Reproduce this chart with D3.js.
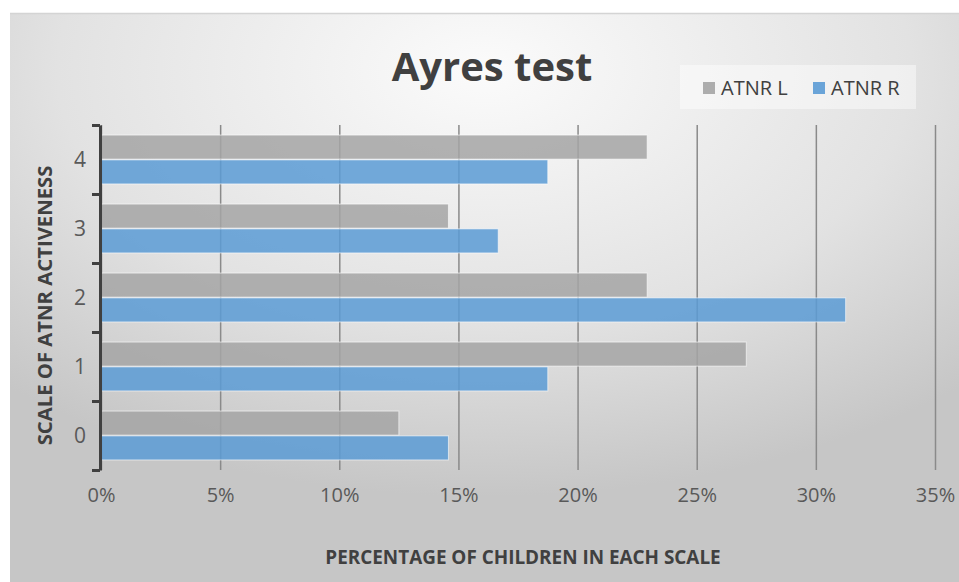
<!DOCTYPE html>
<html>
<head>
<meta charset="utf-8">
<script src="https://cdn.jsdelivr.net/npm/d3@7"></script>
<style>
  body { margin: 0; background: #ffffff; }
  svg { display: block; font-family: "Open Sans", sans-serif; }
</style>
</head>
<body>
<svg id="chart" width="959" height="582"></svg>
<script>
// data (share of 48 children)
var categories = ["4", "3", "2", "1", "0"];
var seriesNames = ["ATNR L", "ATNR R"];
var atnrL = [0.2292, 0.1458, 0.2292, 0.2708, 0.125];
var atnrR = [0.1875, 0.1667, 0.3125, 0.1875, 0.1458];
var xTicks = [0, 0.05, 0.10, 0.15, 0.20, 0.25, 0.30, 0.35];
var colors = ["#a5a5a5", "#5b9bd5"];

var width = 959, height = 582;
var plotLeft = 101, plotRight = 935, plotTop = 125, plotBottom = 470;

var svg = d3.select("#chart");

// background gradient
var defs = svg.append("defs");
var grad = defs.append("radialGradient")
    .attr("id", "bg")
    .attr("cx", "50%").attr("cy", "10%").attr("r", "75%")
    .attr("gradientUnits", "objectBoundingBox");
grad.append("stop").attr("offset", "0%").attr("stop-color", "#fbfbfb");
grad.append("stop").attr("offset", "60%").attr("stop-color", "#e2e2e2");
grad.append("stop").attr("offset", "100%").attr("stop-color", "#c6c6c6");

svg.append("rect")
    .attr("x", 10).attr("y", 13)
    .attr("width", width - 10).attr("height", height - 13)
    .attr("fill", "url(#bg)");
svg.append("line")
    .attr("x1", 10).attr("x2", width).attr("y1", 13.5).attr("y2", 13.5)
    .attr("stroke", "#d4d4d4").attr("stroke-width", 1.5);

var x = d3.scaleLinear().domain([0, 0.35]).range([plotLeft, plotRight]);
var y = d3.scaleBand().domain(categories).range([plotTop, plotBottom])
    .paddingInner(0.27).paddingOuter(0.135);
var ySub = d3.scaleBand().domain(seriesNames).range([0, y.bandwidth()]).padding(0.03);

// title
svg.append("text")
    .attr("x", 492).attr("y", 81)
    .attr("text-anchor", "middle")
    .attr("font-weight", "bold")
    .attr("font-size", 40)
    .attr("fill", "#404040")
    .text("Ayres test");

// legend
var legend = svg.append("g");
legend.append("rect")
    .attr("x", 680).attr("y", 65).attr("width", 236).attr("height", 44)
    .attr("fill", "#ffffff").attr("fill-opacity", 0.45);
var legX = [703, 813];
seriesNames.forEach(function(s, i) {
    legend.append("rect")
        .attr("x", legX[i]).attr("y", 82)
        .attr("width", 12).attr("height", 12)
        .attr("fill", colors[i]).attr("fill-opacity", 0.9);
    legend.append("text")
        .attr("x", legX[i] + 18).attr("y", 95)
        .attr("font-size", 20)
        .attr("fill", "#404040")
        .text(s);
});

// x gridlines + tick labels
var xAxis = svg.append("g")
    .attr("transform", "translate(0," + plotBottom + ")")
    .call(d3.axisBottom(x).tickValues(xTicks).tickFormat(d3.format(".0%"))
        .tickSize(-(plotBottom - plotTop)).tickPadding(18));
xAxis.select(".domain").remove();
xAxis.selectAll(".tick line")
    .attr("stroke", "#8a8a8a").attr("stroke-width", 1.5);
xAxis.selectAll(".tick text")
    .attr("font-size", 20)
    .attr("fill", "#595959")
    .attr("font-family", "'Open Sans', sans-serif");

// bars
var rows = categories.map(function(c, i) {
    return {cat: c, values: [atnrL[i], atnrR[i]]};
});
var groups = svg.append("g").selectAll("g").data(rows).enter().append("g")
    .attr("transform", function(d) { return "translate(0," + y(d.cat) + ")"; });
groups.selectAll("rect")
    .data(function(d) { return d.values.map(function(v, i) { return {s: seriesNames[i], v: v, i: i}; }); })
    .enter().append("rect")
    .attr("x", x(0))
    .attr("y", function(d) { return ySub(d.s); })
    .attr("width", function(d) { return x(d.v) - x(0); })
    .attr("height", ySub.bandwidth())
    .attr("fill", function(d) { return colors[d.i]; })
    .attr("fill-opacity", 0.85)
    .attr("stroke", "#ffffff")
    .attr("stroke-opacity", 0.6)
    .attr("stroke-width", 1);

// y axis with ticks at category boundaries
var yEdge = d3.scaleLinear().domain([0, categories.length]).range([plotBottom, plotTop]);
var yAxis = svg.append("g")
    .attr("transform", "translate(" + (plotLeft - 1) + ",0)")
    .call(d3.axisLeft(yEdge).tickValues(d3.range(categories.length + 1))
        .tickFormat("").tickSize(8).tickSizeOuter(0));
yAxis.select(".domain").attr("stroke", "#404040").attr("stroke-width", 3);
yAxis.selectAll(".tick line").attr("stroke", "#404040").attr("stroke-width", 3);

// category labels
svg.append("g").selectAll("text").data(categories).enter().append("text")
    .attr("x", 80)
    .attr("y", function(d) { return y(d) + y.bandwidth() / 2; })
    .attr("dy", "0.35em")
    .attr("text-anchor", "middle")
    .attr("font-size", 21)
    .attr("fill", "#595959")
    .text(function(d) { return d; });

// axis titles
svg.append("text")
    .attr("transform", "translate(52," + ((plotTop + plotBottom) / 2 + 8) + ") rotate(-90)")
    .attr("text-anchor", "middle")
    .attr("font-weight", "bold")
    .attr("font-size", 20.3)
    .attr("fill", "#404040")
    .text("SCALE OF ATNR ACTIVENESS");

svg.append("text")
    .attr("x", 523).attr("y", 564)
    .attr("text-anchor", "middle")
    .attr("font-weight", "bold")
    .attr("font-size", 18.9)
    .attr("fill", "#404040")
    .text("PERCENTAGE OF CHILDREN IN EACH SCALE");
</script>
</body>
</html>
